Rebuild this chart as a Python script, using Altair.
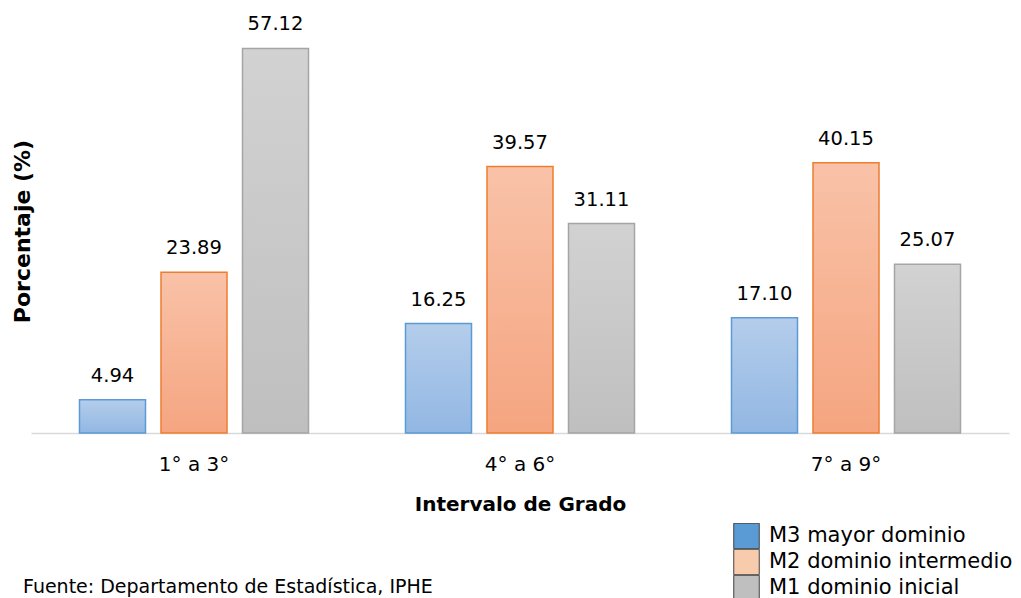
import altair as alt
import pandas as pd

categories = ["1° a 3°", "4° a 6°", "7° a 9°"]
series = ["M3 mayor dominio", "M2 dominio intermedio", "M1 dominio inicial"]
m3_values = [4.94, 16.25, 17.10]
m2_values = [23.89, 39.57, 40.15]
m1_values = [57.12, 31.11, 25.07]
legend_colors = ["#5B9BD5", "#F8CBAD", "#BFBFBF"]
bar_strokes = ["#5B9BD5", "#ED7D31", "#A5A5A5"]
grad_top = ["#B4CDEB", "#F9C2A8", "#D2D2D2"]
grad_bottom = ["#92B7E3", "#F5A580", "#BFBFBF"]
source_text = "Fuente: Departamento de Estadística, IPHE"

rows = []
for s, vals in zip(series, [m3_values, m2_values, m1_values]):
    for c, v in zip(categories, vals):
        rows.append({"grado": c, "serie": s, "valor": v})
df = pd.DataFrame(rows)

FONT = "DejaVu Sans"

x_enc = alt.X(
    "grado:N", sort=categories,
    scale=alt.Scale(paddingInner=0, paddingOuter=0),
    axis=alt.Axis(
        title="Intervalo de Grado", labelAngle=0, ticks=False, tickSize=0,
        labelPadding=37, labelBaseline="alphabetic",
        domainColor="#D9D9D9", domainWidth=1.5,
        labelFont=FONT, labelFontSize=20, labelColor="#000000",
        titleFont=FONT, titleFontSize=20, titleFontWeight="bold", titleColor="#000000",
        titleBaseline="alphabetic", titleY=77,
    ),
)
xo_enc = alt.XOffset(
    "serie:N", sort=series,
    scale=alt.Scale(domain=series, paddingInner=0.19, paddingOuter=0.595),
)
y_enc = alt.Y(
    "valor:Q",
    scale=alt.Scale(domain=[0, 60], nice=False, zero=True),
    axis=alt.Axis(
        title="Porcentaje (%)", labels=False, ticks=False, domain=False, grid=False,
        titleFont=FONT, titleFontSize=22, titleFontWeight="bold", titleColor="#000000",
        titleX=3, titleY=202, titleBaseline="bottom",
    ),
)

layers = []
for i, s in enumerate(series):
    grad = alt.Gradient(
        gradient="linear",
        stops=[alt.GradientStop(color=grad_top[i], offset=0),
               alt.GradientStop(color=grad_bottom[i], offset=1)],
        x1=0, x2=0, y1=0, y2=1,
    )
    layers.append(
        alt.Chart(df).transform_filter(alt.datum.serie == s)
        .mark_bar(fill=grad, stroke=bar_strokes[i], strokeWidth=1.5)
        .encode(x=x_enc, xOffset=xo_enc, y=y_enc)
    )

legend_layer = alt.Chart(df).mark_bar(opacity=0).encode(
    x=x_enc, xOffset=xo_enc, y=y_enc,
    color=alt.Color(
        "serie:N", sort=series,
        scale=alt.Scale(domain=series, range=legend_colors),
        legend=alt.Legend(
            title=None, orient="none", legendX=702, legendY=494,
            symbolType="square", symbolSize=650, symbolOpacity=1,
            symbolStrokeColor="#404040", symbolStrokeWidth=1,
            rowPadding=0, labelOffset=9, padding=0, clipHeight=26,
            labelFont=FONT, labelFontSize=21, labelColor="#000000",
            labelLimit=400,
        ),
    ),
)

labels = alt.Chart(df).mark_text(
    baseline="alphabetic", dy=-18, font=FONT, fontSize=19.5, color="#000000"
).encode(
    x=x_enc, xOffset=xo_enc, y=y_enc,
    text=alt.Text("valor:Q", format=".2f"),
)

source = alt.Chart(pd.DataFrame({"t": [source_text]})).mark_text(
    align="left", baseline="alphabetic", font=FONT, fontSize=19, color="#000000"
).encode(x=alt.value(-8), y=alt.value(564), text="t:N")

chart = alt.layer(legend_layer, *layers, labels, source).properties(
    width=978, height=404,
    autosize=alt.AutoSizeParams(type="none"),
    padding={"left": 23, "top": 21, "right": 4, "bottom": 165},
).configure_view(stroke=None)

chart.save("out.html", embed_options={"renderer": "svg", "actions": False})
